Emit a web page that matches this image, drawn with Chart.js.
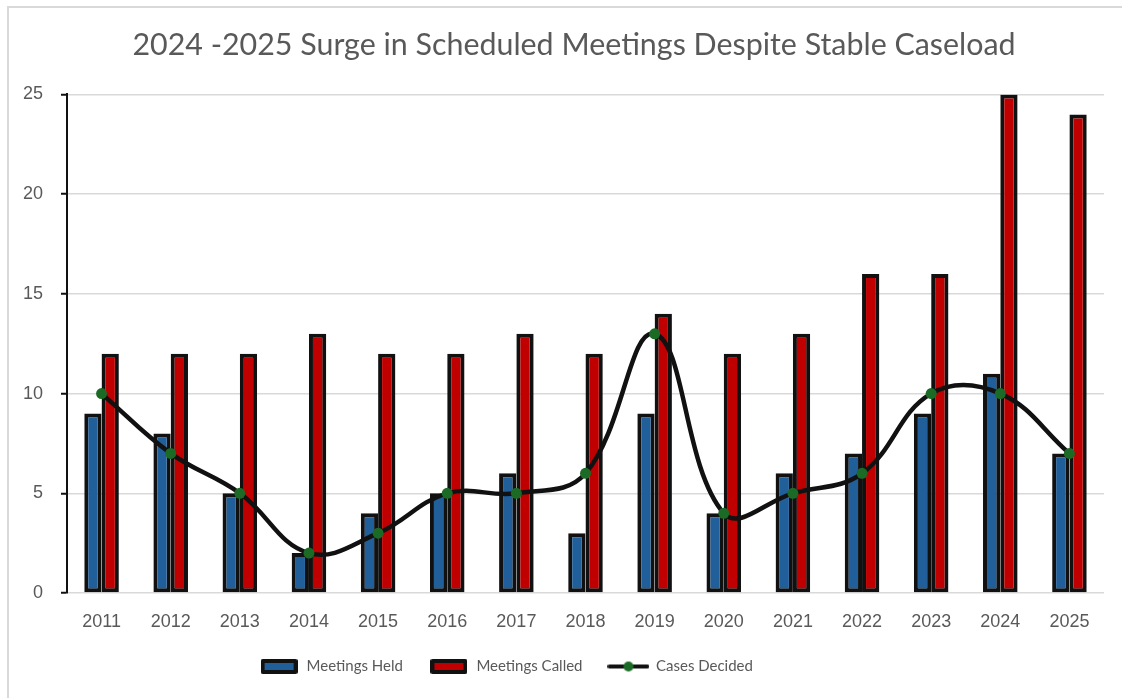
<!DOCTYPE html>
<html>
<head>
<meta charset="utf-8">
<script src="https://cdn.jsdelivr.net/npm/chart.js@4/dist/chart.umd.min.js"></script>
<style>
  html, body { margin: 0; padding: 0; background: #fff; }
  #wrap { position: relative; width: 1122px; height: 698px; }
  #frame { position: absolute; left: 7px; top: 6px; width: 1200px; height: 800px; border: 2px solid #d9d9d9; pointer-events: none; }
</style>
</head>
<body>
<div id="wrap">
  <canvas id="c" width="1122" height="698"></canvas>
  <div id="frame"></div>
</div>
<script>
const years = ["2011","2012","2013","2014","2015","2016","2017","2018","2019","2020","2021","2022","2023","2024","2025"];
const meetingsHeld   = [9, 8, 5, 2, 4, 5, 6, 3, 9, 4, 6, 7, 9, 11, 7];
const meetingsCalled = [12, 12, 12, 13, 12, 12, 13, 12, 14, 12, 13, 16, 16, 25, 24];
const casesDecided   = [10, 7, 5, 2, 3, 5, 5, 6, 13, 4, 5, 6, 10, 10, 7];
const yTicks = [0, 5, 10, 15, 20, 25];

const BLUE = '#215f9a', RED = '#c00000', EDGE = '#111111', GREEN = '#1b6b26';
const TXT = '#595959';

function boxIcon(fill) {
  const cv = document.createElement('canvas');
  cv.width = 37; cv.height = 15;
  const g = cv.getContext('2d');
  g.fillStyle = EDGE; g.beginPath();
  g.roundRect ? g.roundRect(0, 0, 37, 15, 2) : g.rect(0,0,37,15); g.fill();
  g.fillStyle = fill; g.fillRect(4, 4, 29, 7);
  return cv;
}
function lineIcon() {
  const cv = document.createElement('canvas');
  cv.width = 42; cv.height = 14;
  const g = cv.getContext('2d');
  g.strokeStyle = EDGE; g.lineWidth = 4; g.lineCap = 'round';
  g.beginPath(); g.moveTo(2, 7); g.lineTo(40, 7); g.stroke();
  g.fillStyle = GREEN; g.beginPath(); g.arc(21, 7, 5, 0, Math.PI * 2); g.fill();
  return cv;
}
const icons = [boxIcon(BLUE), boxIcon(RED), lineIcon()];

const shiftBoxes = {
  id: 'shiftBoxes',
  afterLayout(chart) {
    const lg = chart.legend;
    if (lg) { lg.left -= 46; lg.right -= 46; lg.top -= 9.6; lg.bottom -= 9.6; }
    const tt = chart.titleBlock;
    if (tt) { tt.left += 22; tt.right += 22; }
  }
};

new Chart(document.getElementById('c'), {
  data: {
    labels: years,
    datasets: [
      { type: 'bar', label: 'Meetings Held', data: meetingsHeld, backgroundColor: BLUE,
        borderColor: EDGE, borderWidth: 4, borderSkipped: false, order: 2 },
      { type: 'bar', label: 'Meetings Called', data: meetingsCalled, backgroundColor: RED,
        borderColor: EDGE, borderWidth: 4, borderSkipped: false, order: 2 },
      { type: 'line', label: 'Cases Decided', data: casesDecided, borderColor: EDGE, borderWidth: 4.5,
        tension: 0.4, pointRadius: 5.5, pointHoverRadius: 5.5, pointBackgroundColor: GREEN,
        pointBorderWidth: 0, pointBorderColor: GREEN, order: 1 }
    ]
  },
  plugins: [shiftBoxes],
  options: {
    responsive: false,
    animation: false,
    datasets: { bar: { categoryPercentage: 0.5, barPercentage: 1.0 } },
    layout: { padding: { left: 0, right: 18, top: 0, bottom: 4.4 } },
    plugins: {
      tooltip: { enabled: false },
      title: {
        display: true,
        text: '2024 -2025 Surge in Scheduled Meetings Despite Stable Caseload',
        color: TXT,
        font: { family: 'Lato', size: 30.4, weight: 'normal' },
        padding: { top: 27, bottom: 31 }
      },
      legend: {
        position: 'bottom',
        labels: {
          usePointStyle: true,
          pointStyleWidth: 40,
          color: TXT,
          font: { family: 'Lato', size: 15 },
          padding: 26,
          sort: (a, b) => a.datasetIndex - b.datasetIndex,
          generateLabels(chart) {
            return chart.data.datasets.map((ds, i) => ({
              text: ds.label, datasetIndex: i, pointStyle: icons[i],
              fillStyle: 'transparent', strokeStyle: 'transparent', lineWidth: 0,
              fontColor: TXT, hidden: false
            }));
          }
        }
      }
    },
    scales: {
      x: {
        grid: { display: false },
        border: { display: false },
        ticks: { color: TXT, font: { family: 'Liberation Sans', size: 18 }, padding: 10, maxRotation: 0 }
      },
      y: {
        min: 0, max: 25,
        afterBuildTicks(s) { s.ticks = yTicks.map(v => ({ value: v })); },
        grid: { color: '#d9d9d9', lineWidth: 1.5, tickLength: 6, tickColor: '#111', tickWidth: 2 },
        border: { display: true, color: '#111', width: 2 },
        ticks: { color: TXT, font: { family: 'Liberation Sans', size: 18 }, padding: 18 },
        afterFit(s) { s.width = 67; }
      }
    }
  }
});
</script>
</body>
</html>
